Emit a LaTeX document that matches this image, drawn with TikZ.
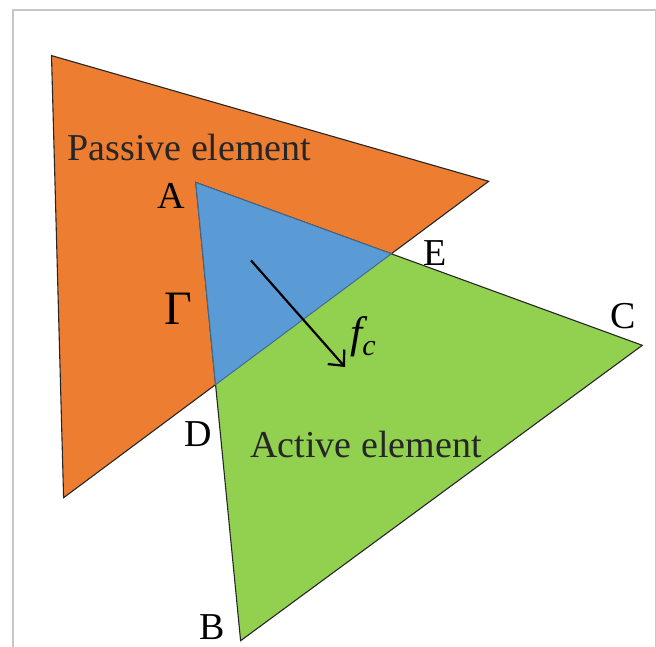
\documentclass[tikz,border=0pt]{standalone}
\usepackage{fontspec}
\setmainfont{Liberation Serif}
\usetikzlibrary{arrows.meta}
\definecolor{passiveorange}{HTML}{ED7D31}
\definecolor{activegreen}{HTML}{92D050}
\definecolor{overlapblue}{HTML}{5B9BD5}
\tikzset{
  elemedge/.style={draw=black!85,line width=0.55pt},
  overlapedge/.style={draw=overlapblue!70!black,line width=0.5pt,fill=overlapblue},
  forcearr/.style={-{Straight Barb[length=6pt,width=11pt,line width=1.1pt]},line width=1.1pt},
  ptlabel/.style={font=\fontsize{19}{22}\selectfont,inner sep=1pt},
  elemlabel/.style={font=\fontsize{19}{22}\selectfont,text=black!85,inner sep=1pt},
  frameline/.style={draw=black!22,line width=0.6pt}
}
\begin{document}
\begin{tikzpicture}[x=0.5pt,y=-0.5pt]
  \useasboundingbox (0,0) rectangle (656,646);
  \begin{scope}
    \clip (0,0) rectangle (656,646);
    \draw[frameline] (13,10) rectangle (655.5,660);
  \end{scope}

  % passive element
  \coordinate (P1) at (51.5,55.6);
  \coordinate (P2) at (488.7,181.3);
  \coordinate (P3) at (63.6,497.7);
  % active element
  \coordinate (A) at (195.8,182.5);
  \coordinate (C) at (642.3,345.3);
  \coordinate (B) at (240.6,640.7);
  % contact points
  \coordinate (E) at (intersection of A--C and P2--P3);
  \coordinate (D) at (intersection of A--B and P2--P3);

  \filldraw[elemedge,fill=passiveorange] (P1)--(P2)--(P3)--cycle;
  \filldraw[elemedge,fill=activegreen] (A)--(C)--(B)--cycle;
  \filldraw[overlapedge] (A)--(E)--(D)--cycle;

  \coordinate (f0) at (251,260.4);
  \coordinate (f1) at (345,367);
  \draw[forcearr] (f0)--(f1);

  \foreach \n/\x/\y/\t in {lA/171.5/196/A,lE/435/253/E,lC/623/316/C,lD/198/434/D,lB/212/627/B}
    \node[ptlabel] (\n) at (\x,\y) {\t};
  \node[ptlabel,font=\fontsize{24}{28}\selectfont] (lG) at (178,309) {Γ};
  \node[ptlabel] (lf) at (363,337) {\fontsize{22}{26}\selectfont\itshape f\raisebox{-0.4ex}{\fontsize{15}{17}\selectfont c}};

  \node[elemlabel] (passive) at (189.5,148) {Passive element};
  \node[elemlabel] (active) at (366,444) {Active element};
\end{tikzpicture}
\end{document}
